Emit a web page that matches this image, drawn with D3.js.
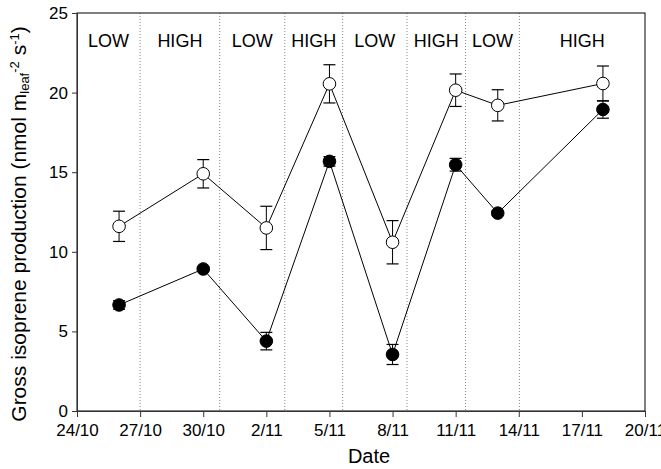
<!DOCTYPE html>
<html>
<head>
<meta charset="utf-8">
<script src="https://cdn.jsdelivr.net/npm/d3@7"></script>
<style>
  body { margin: 0; background: #fff; overflow: hidden; }
  text { font-family: "Liberation Sans", Arial, sans-serif; }
</style>
</head>
<body>
<div id="chart"></div>
<script>
// sampling dates
const dates = ["2010-10-26", "2010-10-30", "2010-11-02", "2010-11-05", "2010-11-08", "2010-11-11", "2010-11-13", "2010-11-18"];
// open circles
const openMean = [11.6, 14.9, 11.5, 20.55, 10.6, 20.15, 19.2, 20.57];
const openErr  = [0.95, 0.89, 1.36, 1.2, 1.36, 1.02, 0.98, 1.1];
// filled circles
const fillMean = [6.66, 8.92, 4.39, 15.68, 3.55, 15.47, 12.43, 18.94];
const fillErr  = [0.27, 0.15, 0.55, 0.3, 0.63, 0.4, 0.15, 0.55];
// period boundaries and labels
const boundaries = ["2010-10-27 00:00", "2010-10-30 18:45", "2010-11-02 21:00", "2010-11-05 15:00", "2010-11-08 16:30", "2010-11-11 11:15", "2010-11-14 00:45"];
const periods = ["LOW", "HIGH", "LOW", "HIGH", "LOW", "HIGH", "LOW", "HIGH"];
const xTicks = ["2010-10-24", "2010-10-27", "2010-10-30", "2010-11-02", "2010-11-05", "2010-11-08", "2010-11-11", "2010-11-14", "2010-11-17", "2010-11-20"];
const yTicks = [0, 5, 10, 15, 20, 25];

const margin = { top: 13, right: 16, bottom: 58, left: 77 },
    width = 661 - margin.left - margin.right,
    height = 469 - margin.top - margin.bottom;

const parseDay = d3.timeParse("%Y-%m-%d");
const parseTime = d3.timeParse("%Y-%m-%d %H:%M");

const svg = d3.select("#chart")
    .append("svg")
    .attr("width", 661)
    .attr("height", 469)
    .append("g")
    .attr("transform", "translate(" + margin.left + "," + margin.top + ")");

const x = d3.scaleTime()
    .domain([parseDay("2010-10-24"), parseDay("2010-11-20")])
    .range([0, width]);
const y = d3.scaleLinear()
    .domain([0, 25])
    .range([height, 0]);

// dotted period separators
const edges = [x.domain()[0]].concat(boundaries.map(parseTime), [x.domain()[1]]);
svg.append("g")
    .selectAll("line")
    .data(boundaries.map(parseTime))
    .enter()
    .append("line")
    .attr("x1", d => x(d)).attr("x2", d => x(d))
    .attr("y1", 0).attr("y2", height)
    .attr("stroke", "#888")
    .attr("stroke-width", 1)
    .attr("stroke-dasharray", "1,2");

// period labels
svg.append("g")
    .selectAll("text")
    .data(periods)
    .enter()
    .append("text")
    .attr("x", (d, i) => (x(edges[i]) + x(edges[i + 1])) / 2)
    .attr("y", 34)
    .attr("text-anchor", "middle")
    .style("font-size", "18px")
    .text(d => d);

// frame
svg.append("rect")
    .attr("width", width).attr("height", height)
    .attr("fill", "none").attr("stroke", "#000").attr("stroke-width", 1);

// axes
const xAxis = svg.append("g")
    .attr("transform", "translate(0," + height + ")")
    .call(d3.axisBottom(x)
        .tickValues(xTicks.map(parseDay))
        .tickFormat(d3.timeFormat("%-d/%-m"))
        .tickSizeOuter(0)
        .tickSize(6)
        .tickPadding(7));
const yAxis = svg.append("g")
    .call(d3.axisLeft(y)
        .tickValues(yTicks)
        .tickSizeOuter(0)
        .tickSize(5)
        .tickPadding(4));
[xAxis, yAxis].forEach(a => {
    a.selectAll("text").style("font-size", "17px").attr("fill", "#000")
        .style("font-family", "'Liberation Sans', Arial, sans-serif");
    a.selectAll("line").attr("stroke", "#333");
    a.select(".domain").attr("stroke", "#333");
});

function drawSeries(mean, err, fill) {
    const pts = dates.map((d, i) => ({ date: parseDay(d), v: mean[i], e: err[i] }));
    const g = svg.append("g");
    // error bars
    const eb = g.selectAll(".eb").data(pts).enter().append("g");
    eb.append("line")
        .attr("x1", d => x(d.date)).attr("x2", d => x(d.date))
        .attr("y1", d => y(d.v - d.e)).attr("y2", d => y(d.v + d.e))
        .attr("stroke", "#000");
    [-1, 1].forEach(s => {
        eb.append("line")
            .attr("x1", d => x(d.date) - 6).attr("x2", d => x(d.date) + 6)
            .attr("y1", d => y(d.v + s * d.e)).attr("y2", d => y(d.v + s * d.e))
            .attr("stroke", "#000").attr("stroke-width", 1.2);
    });
    g.append("path")
        .datum(pts)
        .attr("fill", "none")
        .attr("stroke", "#000")
        .attr("stroke-width", 1)
        .attr("d", d3.line().x(d => x(d.date)).y(d => y(d.v)));
    return { g, pts, fill };
}

const sOpen = drawSeries(openMean, openErr, "#fff");
const sFill = drawSeries(fillMean, fillErr, "#000");
[sOpen, sFill].forEach(s => {
    s.g.selectAll("circle")
        .data(s.pts)
        .enter()
        .append("circle")
        .attr("cx", d => x(d.date))
        .attr("cy", d => y(d.v))
        .attr("r", 6.3)
        .attr("fill", s.fill)
        .attr("stroke", "#000")
        .attr("stroke-width", 1);
});

// axis titles
svg.append("text")
    .attr("x", 292)
    .attr("y", height + 52)
    .attr("text-anchor", "middle")
    .style("font-size", "20px")
    .text("Date");

const yl = svg.append("text")
    .attr("transform", "translate(-51," + (height / 2 + 12) + ") rotate(-90)")
    .attr("text-anchor", "middle")
    .style("font-size", "21px");
yl.append("tspan").text("Gross isoprene production (nmol m");
yl.append("tspan").attr("baseline-shift", "-25%").style("font-size", "13px").text("leaf");
yl.append("tspan").attr("baseline-shift", "super").style("font-size", "13px").text("-2");
yl.append("tspan").text(" s");
yl.append("tspan").attr("baseline-shift", "super").style("font-size", "13px").text("-1");
yl.append("tspan").text(")");
</script>
</body>
</html>
